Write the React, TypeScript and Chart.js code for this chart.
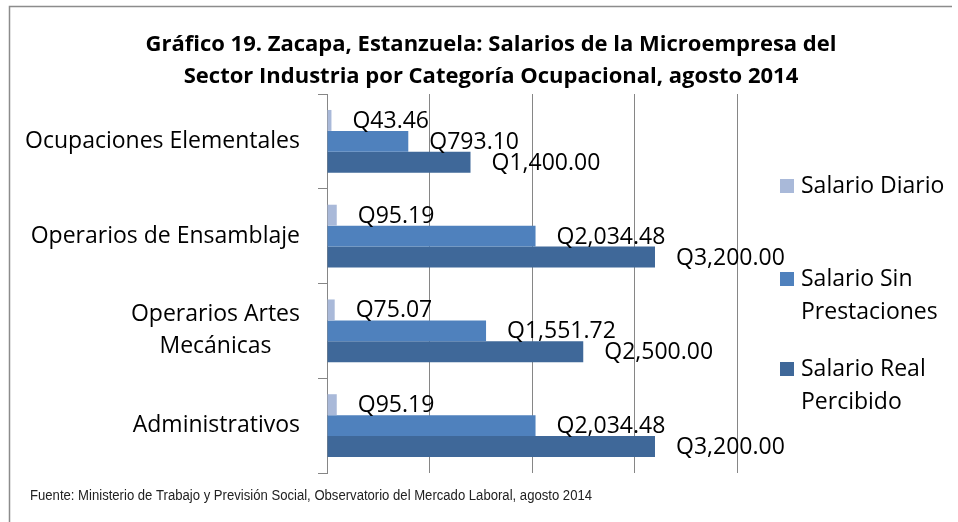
import React, { useEffect, useRef } from "react";
import { Chart, registerables } from "chart.js";

Chart.register(...registerables);

const titleLines: string[] = [
  "Gráfico 19. Zacapa, Estanzuela: Salarios de la Microempresa del",
  "Sector Industria por Categoría Ocupacional, agosto 2014",
];
const categories: string[][] = [
  ["Ocupaciones Elementales"],
  ["Operarios de Ensamblaje"],
  ["Operarios Artes", "Mecánicas"],
  ["Administrativos"],
];
const seriesNames: string[][] = [
  ["Salario Diario"],
  ["Salario Sin", "Prestaciones"],
  ["Salario Real", "Percibido"],
];
const salarioDiario: number[] = [43.46, 95.19, 75.07, 95.19];
const salarioSinPrestaciones: number[] = [793.1, 2034.48, 1551.72, 2034.48];
const salarioRealPercibido: number[] = [1400, 3200, 2500, 3200];
const seriesColors: string[] = ["#A9B9D9", "#4F81BD", "#3F6899"];
const xMin = 0;
const xMax = 4000;
const xStep = 1000;
const footnote =
  "Fuente: Ministerio de Trabajo y Previsión Social, Observatorio del Mercado Laboral, agosto 2014";

const FONT = '"Open Sans", "Liberation Sans", sans-serif';

const fmt = (v: number) =>
  "Q" + v.toLocaleString("en-US", { minimumFractionDigits: 2, maximumFractionDigits: 2 });

const decorPlugin = {
  id: "decor",
  beforeDraw(chart: any) {
    const ctx = chart.ctx;
    ctx.save();
    ctx.strokeStyle = "#8C8C8C";
    ctx.lineWidth = 1.5;
    ctx.beginPath();
    ctx.moveTo(9.5, 530);
    ctx.lineTo(9.5, 6.5);
    ctx.lineTo(952, 6.5);
    ctx.stroke();
    ctx.restore();
  },
  afterDraw(chart: any) {
    const ctx = chart.ctx;
    ctx.save();
    // Title
    ctx.fillStyle = "#000";
    ctx.font = `bold 22px ${FONT}`;
    ctx.textAlign = "center";
    ctx.textBaseline = "middle";
    titleLines.forEach((t, i) => ctx.fillText(t, 491, 45 + i * 32, 698));

    // Category labels
    const yScale = chart.scales.y;
    ctx.font = `23px ${FONT}`;
    categories.forEach((lines, i) => {
      const cy = yScale.getPixelForValue(i);
      const widest = Math.max(...lines.map((l) => ctx.measureText(l).width));
      const right = 300;
      const lh = 32;
      const startY = cy - ((lines.length - 1) * lh) / 2;
      ctx.textAlign = lines.length > 1 ? "center" : "right";
      lines.forEach((l, k) => {
        const x = lines.length > 1 ? right - widest / 2 : right;
        ctx.fillText(l, x, startY + k * lh);
      });
    });

    // Data labels
    ctx.textAlign = "left";
    chart.data.datasets.forEach((ds: any, di: number) => {
      const meta = chart.getDatasetMeta(di);
      meta.data.forEach((el: any, j: number) => {
        ctx.fillText(fmt(ds.data[j]), el.x + 21, el.y + 1);
      });
    });

    // Legend
    const legendY = [186, 279, 369];
    seriesNames.forEach((lines, i) => {
      ctx.fillStyle = seriesColors[i];
      ctx.fillRect(780, legendY[i] - 7, 14, 14);
      ctx.fillStyle = "#000";
      lines.forEach((l, k) => ctx.fillText(l, 801, legendY[i] + k * 33));
    });

    // Footnote
    ctx.font = '14px "Liberation Sans Narrow", "Liberation Sans", sans-serif';
    ctx.fillStyle = "#222";
    ctx.fillText(footnote, 30, 496, 562);
    ctx.restore();
  },
};

export default function App() {
  const ref = useRef<HTMLCanvasElement | null>(null);
  useEffect(() => {
    if (!ref.current) return;
    const chart = new Chart(ref.current, {
      type: "bar",
      data: {
        labels: categories.map((c) => c.join(" ")),
        datasets: [
          { label: seriesNames[0].join(" "), data: salarioDiario, backgroundColor: seriesColors[0] },
          { label: seriesNames[1].join(" "), data: salarioSinPrestaciones, backgroundColor: seriesColors[1] },
          { label: seriesNames[2].join(" "), data: salarioRealPercibido, backgroundColor: seriesColors[2] },
        ],
      },
      options: {
        indexAxis: "y",
        responsive: false,
        animation: false,
        devicePixelRatio: 1,
        layout: { padding: { top: 94, right: 221, left: 0, bottom: 0 } },
        datasets: { bar: { categoryPercentage: 0.663, barPercentage: 1 } },
        plugins: { legend: { display: false }, title: { display: false }, tooltip: { enabled: false } },
        scales: {
          x: {
            min: xMin,
            max: xMax,
            ticks: { display: false, stepSize: xStep },
            grid: { color: "#868686", drawTicks: false, lineWidth: 1 },
            border: { display: false },
            afterFit: (s: any) => {
              s.height = 49;
            },
          },
          y: {
            ticks: { display: false },
            grid: { offset: true, drawOnChartArea: false, drawTicks: true, tickLength: 9, color: "#868686" },
            border: { display: true, color: "#868686", width: 1 },
            afterFit: (s: any) => {
              s.width = 327;
            },
          },
        },
      } as any,
      plugins: [decorPlugin],
    });
    return () => chart.destroy();
  }, []);
  return (
    <canvas
      ref={ref}
      width={958}
      height={522}
      style={{ position: "absolute", left: 0, top: 0, width: 958, height: 522, display: "block" }}
    />
  );
}
